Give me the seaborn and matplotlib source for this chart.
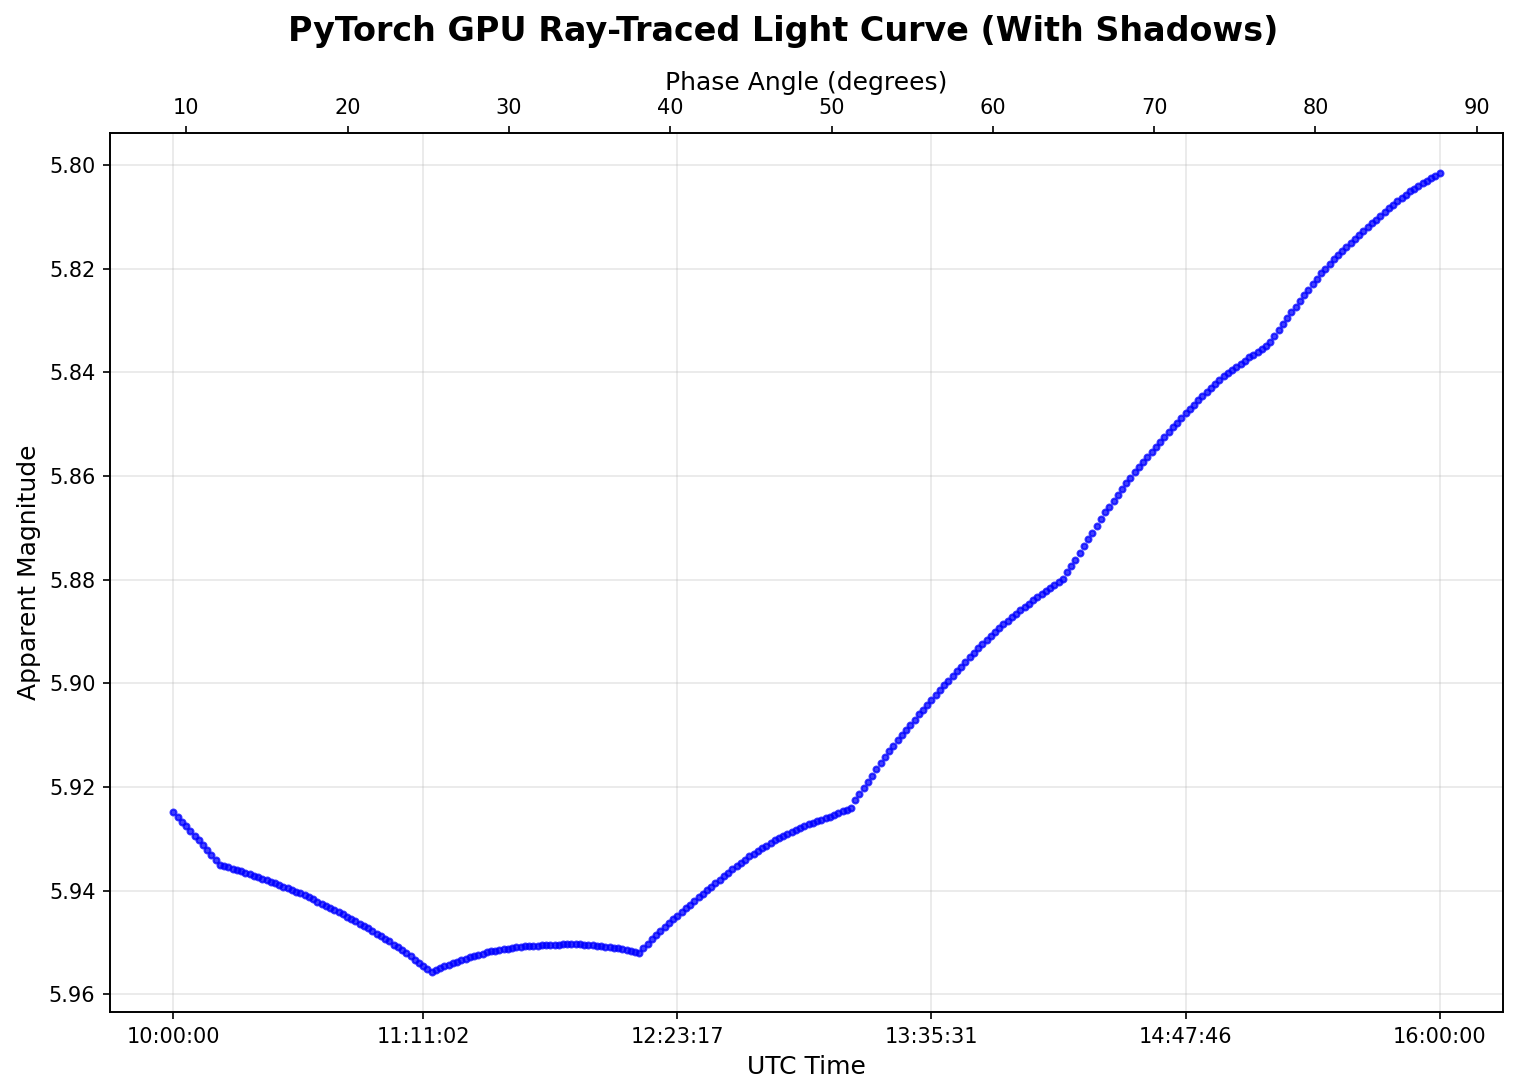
import numpy as np
import pandas as pd
import matplotlib
matplotlib.use("Agg")
import matplotlib.pyplot as plt
import seaborn as sns

# observation window (UTC) and number of samples
start_time = "2024-01-01 10:00:00"
end_time = "2024-01-01 16:00:00"
n_samples = 300

# phase angle at first / last sample (degrees)
phase_start = 9.2
phase_end = 87.7

# bottom tick positions (sample index) and their labels
tick_index = [0, 59, 119, 179, 239, 299]
tick_labels = ["10:00:00", "11:11:02", "12:23:17", "13:35:31", "14:47:46", "16:00:00"]
mag_ticks = [5.80, 5.82, 5.84, 5.86, 5.88, 5.90, 5.92, 5.94, 5.96]
phase_ticks = [10, 20, 30, 40, 50, 60, 70, 80, 90]

# apparent magnitude per sample
magnitude = [
    5.9249, 5.9258, 5.9267, 5.9276, 5.9285, 5.9294, 5.9303, 5.9312, 5.9322, 5.9331,
    5.9341, 5.9350, 5.9353, 5.9355, 5.9358, 5.9360, 5.9363, 5.9365, 5.9368, 5.9371,
    5.9374, 5.9377, 5.9380, 5.9383, 5.9386, 5.9389, 5.9392, 5.9395, 5.9398, 5.9402,
    5.9405, 5.9409, 5.9413, 5.9417, 5.9421, 5.9425, 5.9429, 5.9433, 5.9437, 5.9441,
    5.9446, 5.9450, 5.9455, 5.9459, 5.9464, 5.9469, 5.9473, 5.9478, 5.9483, 5.9488,
    5.9493, 5.9498, 5.9504, 5.9509, 5.9515, 5.9521, 5.9527, 5.9533, 5.9539, 5.9545,
    5.9551, 5.9557, 5.9553, 5.9550, 5.9546, 5.9543, 5.9540, 5.9537, 5.9534, 5.9532,
    5.9529, 5.9527, 5.9524, 5.9522, 5.9519, 5.9517, 5.9516, 5.9514, 5.9513, 5.9512,
    5.9510, 5.9509, 5.9508, 5.9507, 5.9507, 5.9506, 5.9506, 5.9505, 5.9505, 5.9504,
    5.9504, 5.9504, 5.9503, 5.9503, 5.9503, 5.9503, 5.9503, 5.9504, 5.9504, 5.9505,
    5.9506, 5.9507, 5.9508, 5.9509, 5.9510, 5.9511, 5.9512, 5.9514, 5.9516, 5.9518,
    5.9520, 5.9511, 5.9502, 5.9494, 5.9485, 5.9478, 5.9470, 5.9463, 5.9455, 5.9448,
    5.9441, 5.9434, 5.9427, 5.9420, 5.9413, 5.9406, 5.9399, 5.9393, 5.9386, 5.9379,
    5.9372, 5.9366, 5.9359, 5.9352, 5.9346, 5.9340, 5.9334, 5.9329, 5.9323, 5.9318,
    5.9313, 5.9308, 5.9303, 5.9299, 5.9295, 5.9291, 5.9287, 5.9283, 5.9279, 5.9275,
    5.9272, 5.9269, 5.9266, 5.9263, 5.9260, 5.9257, 5.9254, 5.9250, 5.9247, 5.9244,
    5.9240, 5.9226, 5.9214, 5.9202, 5.9190, 5.9178, 5.9166, 5.9154, 5.9142, 5.9131,
    5.9120, 5.9110, 5.9100, 5.9090, 5.9080, 5.9070, 5.9060, 5.9051, 5.9041, 5.9032,
    5.9022, 5.9013, 5.9004, 5.8995, 5.8986, 5.8977, 5.8968, 5.8959, 5.8950, 5.8941,
    5.8932, 5.8924, 5.8916, 5.8908, 5.8900, 5.8893, 5.8886, 5.8879, 5.8872, 5.8866,
    5.8859, 5.8852, 5.8846, 5.8840, 5.8834, 5.8828, 5.8822, 5.8816, 5.8810, 5.8804,
    5.8798, 5.8786, 5.8774, 5.8761, 5.8748, 5.8735, 5.8722, 5.8709, 5.8696, 5.8683,
    5.8670, 5.8659, 5.8648, 5.8637, 5.8625, 5.8614, 5.8603, 5.8592, 5.8582, 5.8573,
    5.8563, 5.8553, 5.8543, 5.8534, 5.8524, 5.8514, 5.8506, 5.8497, 5.8488, 5.8479,
    5.8471, 5.8462, 5.8454, 5.8446, 5.8438, 5.8430, 5.8423, 5.8415, 5.8407, 5.8401,
    5.8395, 5.8389, 5.8383, 5.8377, 5.8371, 5.8366, 5.8360, 5.8355, 5.8349, 5.8342,
    5.8330, 5.8319, 5.8307, 5.8295, 5.8284, 5.8273, 5.8262, 5.8251, 5.8240, 5.8229,
    5.8219, 5.8209, 5.8200, 5.8191, 5.8182, 5.8174, 5.8166, 5.8158, 5.8150, 5.8142,
    5.8134, 5.8127, 5.8119, 5.8112, 5.8105, 5.8098, 5.8091, 5.8083, 5.8076, 5.8070,
    5.8063, 5.8057, 5.8050, 5.8045, 5.8040, 5.8035, 5.8030, 5.8025, 5.8020, 5.8015,
]


def build_light_curve():
    times = pd.date_range(start_time, end_time, periods=n_samples)
    df = pd.DataFrame({"time": times, "mag": magnitude})

    sns.set_style("ticks", {
        "axes.edgecolor": "black", "text.color": "black",
        "axes.labelcolor": "black", "xtick.color": "black", "ytick.color": "black",
    })
    plt.rcParams["font.family"] = ["DejaVu Sans"]
    plt.rcParams["xtick.major.size"] = 3.5
    plt.rcParams["ytick.major.size"] = 3.5

    fig, ax = plt.subplots(figsize=(10.12, 7.28), dpi=150)
    fig.subplots_adjust(left=0.0725, right=0.9901, bottom=0.0733, top=0.8782)

    sns.scatterplot(data=df, x="time", y="mag", ax=ax, s=8, color="blue",
                    edgecolor="blue", linewidth=1.0, alpha=0.75, legend=False)

    ax.invert_yaxis()
    ax.set_xticks(times[tick_index])
    ax.set_xticklabels(tick_labels)
    ax.set_yticks(mag_ticks)
    ax.set_yticklabels([f"{v:.2f}" for v in mag_ticks])
    ax.tick_params(labelsize=10)
    ax.set_xlabel("UTC Time", fontsize=12)
    ax.set_ylabel("Apparent Magnitude", fontsize=12)
    ax.grid(True, color="#b0b0b0", alpha=0.3, linewidth=0.8)

    # top axis: phase angle, same 5% margin as the bottom axis
    ax2 = ax.twiny()
    span = phase_end - phase_start
    ax2.set_xlim(phase_start - 0.05 * span, phase_end + 0.05 * span)
    ax2.set_xticks(phase_ticks)
    ax2.tick_params(labelsize=10)
    ax2.set_xlabel("Phase Angle (degrees)", fontsize=12)

    fig.suptitle("PyTorch GPU Ray-Traced Light Curve (With Shadows)",
                 fontsize=16, fontweight="bold", x=0.516, y=0.986)

    fig.savefig("out.png", dpi=150)
    plt.close(fig)


if __name__ == "__main__":
    build_light_curve()
